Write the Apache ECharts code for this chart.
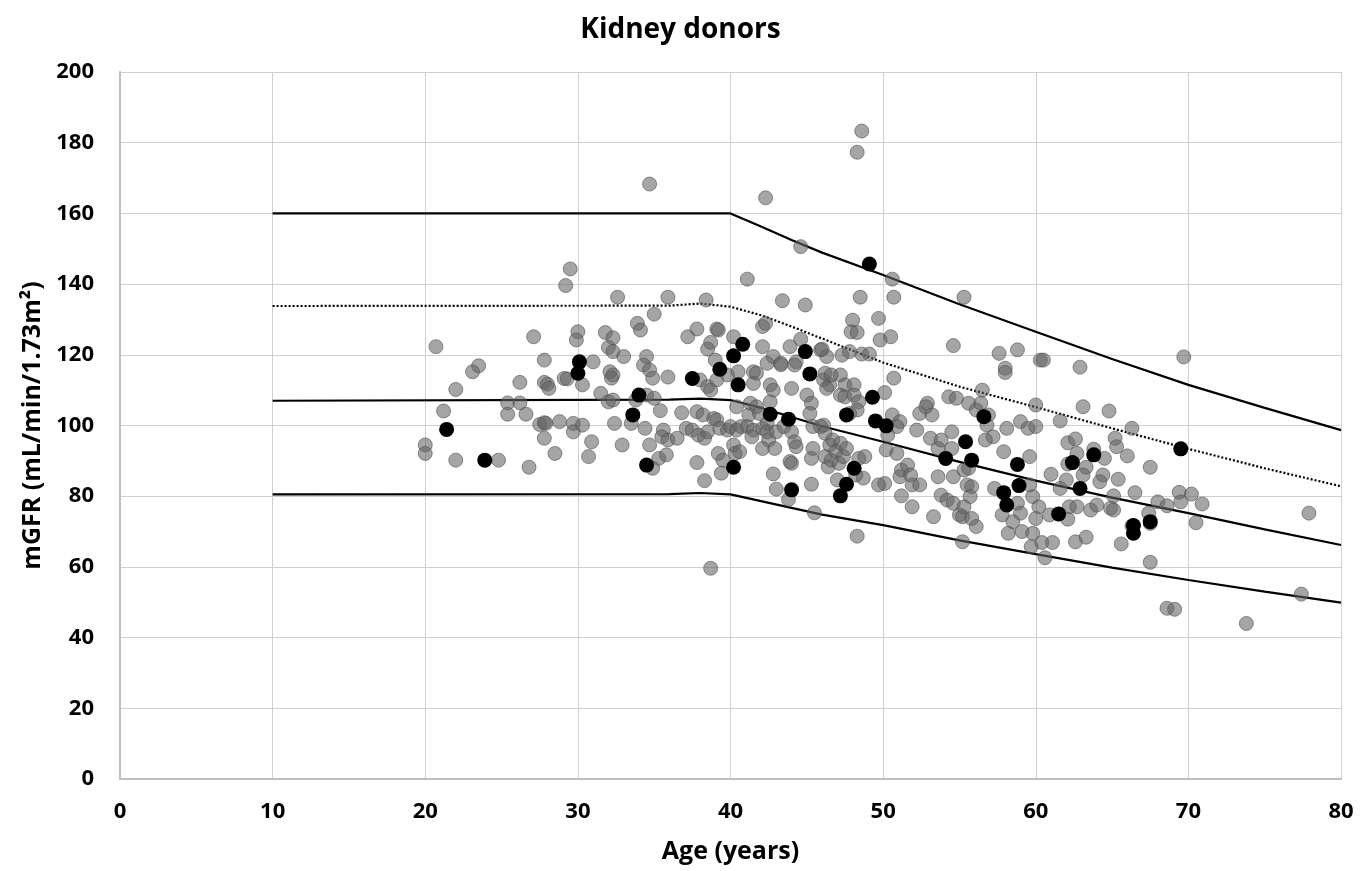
<!DOCTYPE html>
<html>
<head>
<meta charset="utf-8">
<script src="https://cdn.jsdelivr.net/npm/echarts@6/dist/echarts.min.js"></script>
<style>
html,body{margin:0;padding:0;background:#fff;}
#chart{width:1361px;height:871px;}
</style>
</head>
<body>
<div id="chart"></div>
<script>
// ---- Data ----
const xTicks = [0, 10, 20, 30, 40, 50, 60, 70, 80];
const yTicks = [0, 20, 40, 60, 80, 100, 120, 140, 160, 180, 200];

// Reference curves (age, mGFR)
const lineAges   = [10, 36, 38, 40, 42, 44, 46, 50, 55, 60, 65, 70, 75, 80];
const upperLine  = [160, 160, 160, 160, 156.3, 152.5, 148.9, 142.6, 134.3, 126.5, 118.8, 111.5, 105.0, 98.7];
const dottedLine = [133.8, 133.9, 134.5, 133.6, 131.2, 128.0, 124.6, 117.8, 111.0, 105.2, 99.2, 93.4, 87.9, 82.8];
const medianLine = [107.0, 107.3, 107.6, 107.2, 105.0, 102.4, 99.8, 95.4, 89.7, 84.4, 79.6, 75.2, 70.6, 66.2];
const lowerLine  = [80.5, 80.6, 80.9, 80.5, 78.6, 76.7, 74.8, 71.8, 67.5, 63.6, 59.8, 56.3, 53.0, 49.9];

// All donors (grey)
const greyDonors = [
[20.0,94.5],[20.0,92.1],[20.7,122.3],[21.2,104.1],[22.0,110.2],[22.0,90.2],[23.1,115.2],[23.5,116.9],[24.8,90.2],
[25.4,106.4],[25.4,103.2],[26.2,106.4],[26.2,112.2],[26.6,103.2],[26.8,88.2],[27.1,125.1],[27.8,118.5],[27.5,100.3],
[27.8,100.8],[27.9,100.6],[27.8,96.4],[27.8,112.2],[28.0,111.7],[28.1,110.5],[28.5,92.1],[28.8,101.1],[29.1,113.3],
[29.3,113.2],[29.5,144.3],[29.2,139.6],[30.0,126.5],[29.9,124.2],[29.7,100.6],[30.3,100.1],[29.7,98.2],[30.3,111.5],
[30.9,95.4],[30.7,91.2],[31.0,118.0],[31.5,109.1],[32.0,106.7],[32.3,107.2],[32.1,115.2],[32.3,114.3],[32.2,113.4],
[32.4,100.6],[31.8,126.3],[32.3,124.8],[32.0,122.1],[32.3,120.9],[32.6,136.3],[33.0,119.5],[34.5,119.5],
[34.7,168.3],[42.3,164.4],[44.6,150.6],[41.1,141.4],[35.9,136.3],[38.4,135.5],[43.4,135.3],[44.9,134.1],[35.0,131.5],
[33.9,128.9],[34.1,127.0],[37.2,125.1],[37.8,127.3],[39.1,127.3],[39.2,127.0],[38.7,123.5],[38.5,121.6],[40.2,125.1],
[42.1,128.0],[42.3,128.9],[42.1,122.3],[44.6,124.4],[43.9,122.3],[45.9,121.4],[46.3,119.5],[39.0,118.5],[42.8,119.5],
[43.3,117.6],[44.3,118.0],
[34.3,117.1],[34.7,115.7],[34.9,113.4],[35.9,113.7],[38.0,112.9],[38.5,111.0],[38.7,110.0],[39.1,112.9],[39.8,114.3],
[40.5,115.2],[41.5,115.2],[41.7,114.8],[42.4,117.6],[43.3,117.2],[44.2,117.1],[41.5,111.9],[42.6,111.5],[42.8,110.0],
[44.0,110.5],[46.1,112.9],[46.5,111.5],[33.8,107.2],[34.5,108.6],[35.0,107.7],[32.9,94.5],[33.5,100.6],[34.4,99.2],
[35.4,104.2],[36.8,103.6],[37.8,103.9],[38.2,103.0],[38.9,102.0],[39.1,101.6],[35.6,98.7],[35.5,96.8],[35.9,95.9],
[36.5,96.4],[34.7,94.5],[37.1,99.2],[37.5,98.7],[37.9,97.3],[38.3,96.4],[38.5,98.2],[35.3,90.7],[35.8,91.7],[34.9,87.9],
[37.8,89.5],[38.3,84.4],[38.7,59.6],[39.2,92.1],[39.5,90.2],[39.4,86.5],[39.3,99.2],[39.8,98.7],[40.0,99.7],[40.4,98.7],
[40.7,99.7],[40.2,94.5],[40.3,92.1],[40.6,92.6],[40.4,105.3],[41.3,106.3],[41.7,105.3],[41.2,103.0],[41.1,99.7],
[41.5,98.7],[41.4,96.8],[42.1,99.2],[42.4,100.6],[42.6,106.7],[41.9,103.4],[42.5,95.9],[42.1,93.5],[42.9,93.5],
[42.4,98.2],[43.0,98.2],[43.5,99.7],[44.0,98.2],[45.0,108.6],[45.3,106.3],[44.2,95.4],[44.3,94.0],[44.0,89.3],
[43.9,89.8],[45.2,103.4],[45.4,99.7],[46.1,100.1],[45.4,93.5],[45.3,90.7],[42.8,86.3],[43.0,82.0],[43.8,79.1],
[45.3,83.4],[45.5,75.3],[46.2,91.2],[46.4,88.3],[46.5,94.5],
[48.6,183.3],[48.3,177.3],[50.6,141.4],[48.5,136.3],[50.7,136.3],[55.3,136.3],[48.0,129.8],[49.7,130.3],[47.9,126.5],
[48.3,126.3],[49.8,124.2],[50.5,125.1],[54.6,122.6],[57.6,120.4],[58.8,121.4],[46.0,121.6],[47.3,119.9],[47.8,120.9],
[48.6,120.2],[49.1,120.2],[58.0,116.2],[60.3,118.5],
[50.7,113.4],[46.2,114.8],[46.6,114.3],[47.2,114.3],[46.3,110.5],[47.5,111.5],[48.1,111.5],[47.2,108.6],[47.5,108.1],
[48.1,108.6],[48.4,106.7],[48.3,104.4],[47.8,103.4],[50.1,109.3],[50.6,103.0],[51.1,101.1],[50.9,99.7],[50.3,97.3],
[45.9,99.7],[46.2,97.8],[46.7,95.9],[47.2,95.0],[46.9,92.6],[46.6,90.2],[47.1,89.3],[47.4,91.2],[47.6,93.5],[48.4,90.7],
[48.8,91.2],[48.7,85.1],[48.2,86.0],[47.0,84.6],[48.3,68.7],[50.2,93.1],[50.1,83.6],[49.7,83.2],[50.9,92.1],[51.2,87.4],
[51.1,85.5],[51.6,88.8],[51.8,86.0],[51.9,83.2],[52.4,83.2],[51.2,80.1],[51.9,77.0],[52.2,98.7],[53.1,96.4],[52.4,103.4],
[52.9,106.3],[53.2,103.0],[52.8,105.3],[53.6,93.5],[53.8,95.9],[54.5,93.5],[54.5,98.2],[54.3,108.1],[54.8,107.7],
[55.6,106.3],[53.6,85.5],[54.6,85.5],[53.8,80.3],[54.2,78.9],[54.6,78.0],[53.3,74.2],[55.0,74.7],[55.2,74.2],[55.8,73.7],
[56.1,71.4],[55.2,67.1],[55.3,87.4],[55.6,87.9],[55.5,83.2],[55.8,82.7],[55.7,79.9],[55.3,77.0],[56.1,104.4],[56.4,106.3],
[56.5,110.0],[56.9,103.0],[56.8,100.1],[57.2,96.8],[56.7,95.9],[57.3,82.2],[57.9,92.6],[58.1,99.2],[59.0,101.1],
[59.5,99.2],[58.8,78.0],[57.8,74.7],[58.2,69.5],[58.5,72.8],[59.0,75.2],[59.1,70.0],[59.8,69.5],[59.7,65.7],[59.8,79.9],
[60.2,77.0],[60.0,73.7],[60.0,105.8],[58.0,115.0],[60.0,99.7],
[62.9,116.5],[63.1,105.3],[64.8,104.1],[61.6,101.3],[66.3,99.2],[62.1,95.1],[62.6,96.2],[62.7,92.1],[63.8,93.3],
[64.5,90.7],[65.2,96.4],[65.3,94.0],[66.0,91.4],[62.1,89.1],[63.3,88.2],[63.1,86.0],[64.4,86.0],[64.2,84.1],[65.4,84.8],
[67.5,88.2],[61.0,86.2],[61.6,82.2],[62.0,84.6],[59.6,91.2],[59.6,83.2],[60.9,74.7],[62.1,73.5],[62.2,77.0],[62.7,77.0],
[63.6,76.1],[64.0,77.5],[64.9,76.6],[65.1,76.1],[65.1,80.1],[66.5,81.0],[60.4,66.9],[61.1,66.9],[60.6,62.6],[62.6,67.1],
[63.3,68.4],[65.6,66.5],[66.3,71.6],[67.4,75.2],[67.5,72.3],[68.0,78.4],[68.6,77.3],[69.4,81.1],[69.5,78.4],[70.2,80.6],
[70.9,77.8],[70.5,72.5],[67.5,61.3],[68.6,48.3],[69.1,48.0],[73.8,44.0],[77.9,75.2],[77.4,52.3],[69.7,119.4],[60.5,118.5]
];

// Highlighted donors (black)
const blackDonors = [
[21.4,98.9],[23.9,90.2],[30.1,118.0],[30.0,114.8],[33.6,103.0],[34.0,108.6],[34.5,88.8],[37.5,113.3],[39.3,115.9],
[40.8,123.0],[40.2,119.7],[40.5,111.5],[40.2,88.2],[42.6,103.2],[43.8,101.8],[44.0,81.8],[44.9,120.9],[45.2,114.6],
[49.1,145.7],[49.3,108.0],[47.6,103.0],[49.5,101.3],[50.2,99.9],[48.1,87.9],[47.6,83.4],[47.2,80.1],[54.1,90.7],
[55.4,95.4],[55.8,90.2],[56.6,102.5],[58.8,89.0],[58.9,83.0],[57.9,81.0],[58.1,77.5],[62.4,89.5],[63.8,91.7],
[62.9,82.2],[61.5,75.0],[66.4,71.7],[66.4,69.5],[67.5,72.8],[69.5,93.4]
];

// ---- Chart ----
const pair = (xs, ys) => xs.map((x, i) => [x, ys[i]]);
const FONT = '"Open Sans", "DejaVu Sans", sans-serif';

const lineSeries = (name, vals, type) => ({
  name: name, type: 'line', data: pair(lineAges, vals), symbol: 'none',
  lineStyle: { color: '#000', width: 2.2, type: type }, z: 2, silent: true
});

const chart = echarts.init(document.getElementById('chart'), null, { renderer: 'canvas' });
chart.setOption({
  animation: false,
  backgroundColor: '#fff',
  title: {
    text: 'Kidney donors', left: 'center', top: 11,
    textStyle: { fontFamily: FONT, fontWeight: 'bold', fontSize: 28, color: '#000' }
  },
  grid: { left: 120, right: 20, top: 72, bottom: 92, containLabel: false },
  xAxis: {
    type: 'value', min: 0, max: 80, interval: 10,
    name: 'Age (years)', nameLocation: 'middle', nameGap: 60,
    nameTextStyle: { fontFamily: FONT, fontWeight: 'bold', fontSize: 25, color: '#000' },
    axisLine: { show: true, lineStyle: { color: '#bfbfbf', width: 2 } },
    axisTick: { show: false },
    axisLabel: { fontFamily: FONT, fontWeight: 'bold', fontSize: 22, color: '#000', margin: 22,
      formatter: v => xTicks.includes(v) ? String(v) : '' },
    splitLine: { show: true, lineStyle: { color: '#d0d0d0', width: 1 } }
  },
  yAxis: {
    type: 'value', min: 0, max: 200, interval: 20,
    name: 'mGFR (mL/min/1.73m²)', nameLocation: 'middle', nameGap: 64, nameRotate: 90,
    nameTextStyle: { fontFamily: FONT, fontWeight: 'bold', fontSize: 25, color: '#000' },
    axisLine: { show: true, lineStyle: { color: '#bfbfbf', width: 2 } },
    axisTick: { show: false },
    axisLabel: { fontFamily: FONT, fontWeight: 'bold', fontSize: 22, color: '#000', margin: 26,
      formatter: v => yTicks.includes(v) ? String(v) : '' },
    splitLine: { show: true, lineStyle: { color: '#d0d0d0', width: 1 } }
  },
  series: [
    lineSeries('Upper', upperLine, 'solid'),
    lineSeries('Dotted', dottedLine, [2, 2]),
    lineSeries('Median', medianLine, 'solid'),
    lineSeries('Lower', lowerLine, 'solid'),
    {
      name: 'All donors', type: 'scatter', data: greyDonors, symbolSize: 14, z: 3,
      itemStyle: { color: 'rgba(100,100,100,0.58)', borderColor: 'rgba(80,80,80,0.6)', borderWidth: 1, opacity: 1 }
    },
    {
      name: 'Highlighted donors', type: 'scatter', data: blackDonors, symbolSize: 15, z: 4,
      itemStyle: { color: '#000', borderColor: '#000', borderWidth: 0, opacity: 1 }
    }
  ]
});
</script>
</body>
</html>
